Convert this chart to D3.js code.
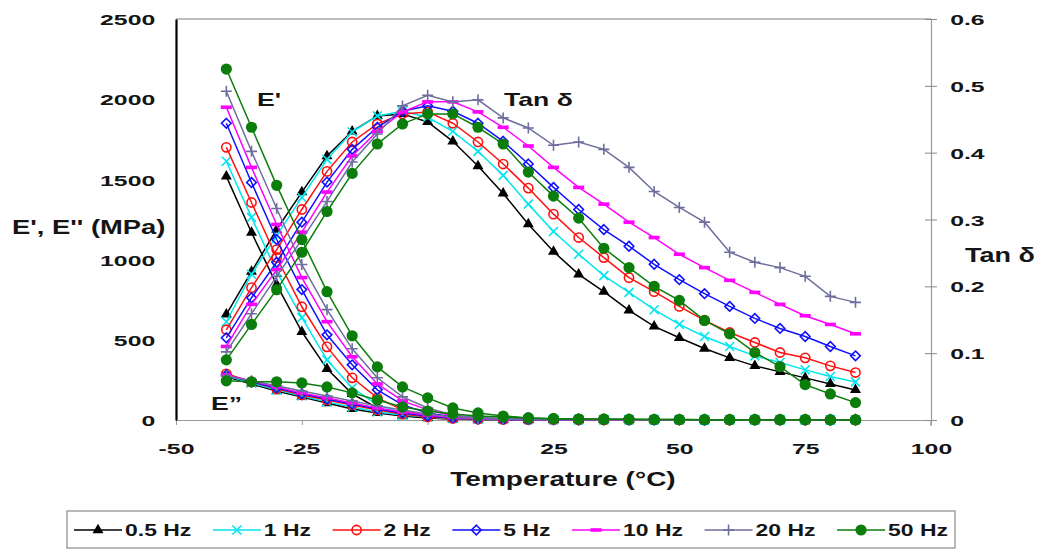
<!DOCTYPE html>
<html><head><meta charset="utf-8">
<script src="https://cdn.jsdelivr.net/npm/d3@7"></script>
<style>
body{margin:0;background:#fff}
svg{display:block}
text{font-family:"Liberation Sans",Arial,sans-serif;font-weight:bold;fill:#151515}
</style>
</head><body>
<svg id="c" width="1038" height="550"></svg>
<script>
// ---------- DATA ----------
const temps = [-40,-35,-30,-25,-20,-15,-10,-5,0,5,10,15,20,25,30,35,40,45,50,55,60,65,70,75,80,85];
const seriesNames = ["0.5 Hz","1 Hz","2 Hz","5 Hz","10 Hz","20 Hz","50 Hz"];
const xTicks = [-50,-25,0,25,50,75,100];
const leftTicks = [0,500,1000,1500,2000,2500];
const rightTicks = [0,0.1,0.2,0.3,0.4,0.5,0.6];

// tan delta (right axis)
const tan_05 = [0.158,0.222,0.285,0.341,0.395,0.432,0.455,0.458,0.446,0.417,0.380,0.339,0.293,0.252,0.218,0.192,0.164,0.140,0.123,0.107,0.093,0.081,0.072,0.063,0.054,0.045];
const tan_1  = [0.147,0.218,0.276,0.333,0.390,0.431,0.455,0.462,0.453,0.432,0.402,0.366,0.323,0.282,0.248,0.216,0.191,0.165,0.143,0.125,0.110,0.096,0.086,0.075,0.065,0.057];
const tan_2  = [0.135,0.198,0.255,0.315,0.372,0.416,0.443,0.458,0.461,0.444,0.416,0.383,0.347,0.308,0.273,0.243,0.213,0.192,0.170,0.149,0.131,0.116,0.101,0.093,0.081,0.071];
const tan_5  = [0.123,0.183,0.236,0.296,0.356,0.405,0.438,0.462,0.470,0.462,0.444,0.417,0.383,0.348,0.315,0.285,0.260,0.233,0.210,0.189,0.170,0.152,0.137,0.125,0.110,0.096];
const tan_10 = [0.110,0.173,0.225,0.281,0.341,0.395,0.432,0.461,0.476,0.476,0.461,0.438,0.410,0.378,0.348,0.323,0.296,0.273,0.248,0.228,0.209,0.191,0.173,0.156,0.143,0.129];
const tan_20 = [0.102,0.159,0.215,0.270,0.327,0.386,0.428,0.470,0.486,0.476,0.479,0.452,0.437,0.411,0.416,0.405,0.378,0.342,0.318,0.296,0.251,0.236,0.228,0.215,0.185,0.176];
const tan_50 = [0.090,0.143,0.195,0.251,0.312,0.369,0.413,0.443,0.458,0.458,0.438,0.413,0.371,0.335,0.302,0.257,0.228,0.200,0.179,0.149,0.129,0.101,0.080,0.053,0.039,0.026];

// E' storage modulus (MPa, left axis)
const Es_05 = [1519,1169,844,550,319,163,75,31,13,8,5,4,3,3,2,2,2,2,1,1,1,1,1,1,1,1];
const Es_1  = [1613,1263,925,638,375,200,94,44,19,10,6,4,3,3,2,2,2,2,1,1,1,1,1,1,1,1];
const Es_2  = [1700,1356,1013,706,456,263,138,63,25,13,8,5,4,3,3,2,2,2,2,1,1,1,1,1,1,1];
const Es_5  = [1850,1481,1125,813,531,344,188,94,44,19,10,6,4,3,3,2,2,2,2,1,1,1,1,1,1,1];
const Es_10 = [1950,1575,1219,888,613,394,225,119,63,25,13,8,5,4,3,3,2,2,2,2,1,1,1,1,1,1];
const Es_20 = [2050,1675,1319,969,688,444,263,144,75,31,16,9,6,4,3,3,2,2,2,2,1,1,1,1,1,1];
const Es_50 = [2188,1825,1463,1125,800,525,331,206,138,75,44,25,13,8,6,5,4,3,3,2,2,2,2,2,1,1];

// E'' loss modulus (MPa, left axis)
const El_05 = [269,225,181,144,106,69,44,25,13,6,3,2,1,1,1,1,1,1,1,1,1,1,1,1,1,1];
const El_1  = [275,231,188,150,113,81,50,31,19,9,5,3,2,1,1,1,1,1,1,1,1,1,1,1,1,1];
const El_2  = [288,238,194,156,125,94,63,38,19,10,5,3,2,2,1,1,1,1,1,1,1,1,1,1,1,1];
const El_5  = [281,238,200,163,131,100,69,44,25,13,6,4,2,2,1,1,1,1,1,1,1,1,1,1,1,1];
const El_10 = [281,244,206,169,138,106,75,50,31,16,8,4,3,2,1,1,1,1,1,1,1,1,1,1,1,1];
const El_20 = [275,244,213,181,150,119,88,63,38,19,10,5,3,2,2,1,1,1,1,1,1,1,1,1,1,1];
const El_50 = [244,238,238,231,206,169,125,81,56,38,25,19,13,8,6,5,4,3,3,2,2,2,2,2,1,1];

const tanData = [tan_05,tan_1,tan_2,tan_5,tan_10,tan_20,tan_50];
const storageData = [Es_05,Es_1,Es_2,Es_5,Es_10,Es_20,Es_50];
const lossData = [El_05,El_1,El_2,El_5,El_10,El_20,El_50];

// ---------- STYLE ----------
const colors = ["#000000","#00e6ee","#ff1010","#1010ff","#ff00ff","#6e6e9e","#0b7d0b"];
const markerTypes = ["tri","x","circle","diamond","dash","plus","dot"];

const svg = d3.select("#c");
const x = d3.scaleLinear().domain([-50,100]).range([176,931]);
const yL = d3.scaleLinear().domain([0,2500]).range([420,19]);
const yR = d3.scaleLinear().domain([0,0.6]).range([420,19]);

function marker(g, type, color){
  if(type==="tri") g.append("path").attr("d", d3.symbol(d3.symbolTriangle, 52)()).attr("fill", color);
  else if(type==="x") g.append("path").attr("d","M-4.5,-4.5L4.5,4.5M-4.5,4.5L4.5,-4.5").attr("stroke",color).attr("stroke-width",1.6).attr("fill","none");
  else if(type==="circle") g.append("circle").attr("r",4.6).attr("fill","none").attr("stroke",color).attr("stroke-width",1.6);
  else if(type==="diamond") g.append("path").attr("d","M0,-4.8L4.8,0L0,4.8L-4.8,0Z").attr("fill","none").attr("stroke",color).attr("stroke-width",1.6);
  else if(type==="dash") g.append("rect").attr("x",-5.5).attr("y",-1.8).attr("width",11).attr("height",3.6).attr("fill",color);
  else if(type==="plus") g.append("path").attr("d","M-5.5,0H5.5M0,-5.5V5.5").attr("stroke",color).attr("stroke-width",1.6).attr("fill","none");
  else if(type==="dot") g.append("circle").attr("r",5.6).attr("fill",color);
}

function stext(parent, tx, ty, str, size, sx, anchor){
  return parent.append("text")
    .attr("transform",`translate(${tx},${ty}) scale(${sx},1)`)
    .attr("text-anchor",anchor||"start")
    .attr("dominant-baseline","central")
    .style("font-size",size+"px")
    .text(str);
}

// ---------- AXES ----------
svg.append("line").attr("x1",176).attr("x2",931).attr("y1",19).attr("y2",19).attr("stroke","#aaa").attr("stroke-width",1.5);

const gx = svg.append("g").attr("transform","translate(0,420)")
  .call(d3.axisBottom(x).tickValues(xTicks).tickSize(5).tickSizeOuter(0).tickFormat(d=>String(d)));
gx.attr("font-size",null).attr("font-family",null);
gx.select(".domain").attr("stroke","#999").attr("stroke-width",1.2);
gx.selectAll(".tick line").attr("stroke","#999");
gx.selectAll(".tick text").attr("y",null).attr("dy",null)
  .attr("transform","translate(0,28) scale(1.6,1)").attr("dominant-baseline","central")
  .style("font-size","15.5px").attr("fill","#151515");

const gl = svg.append("g").attr("transform","translate(176,0)")
  .call(d3.axisLeft(yL).tickValues(leftTicks).tickSize(0).tickSizeOuter(0).tickPadding(13).tickFormat(d=>String(d)));
gl.attr("font-size",null).attr("font-family",null);
gl.select(".domain").attr("stroke","#000").attr("stroke-width",2.2);
gl.selectAll(".tick text").attr("dy",null).attr("dominant-baseline","central")
  .attr("transform","scale(1.6,1)").style("font-size","15.5px").attr("fill","#151515");

const gr = svg.append("g").attr("transform","translate(931,0)")
  .call(d3.axisRight(yR).tickValues(rightTicks).tickSize(6).tickSizeOuter(0).tickPadding(6).tickFormat(d=> d===0 ? "0" : d.toFixed(1)));
gr.attr("font-size",null).attr("font-family",null);
gr.select(".domain").attr("stroke","#999").attr("stroke-width",1.2);
gr.selectAll(".tick line").attr("x1",-6).attr("stroke","#888");
gr.selectAll(".tick text").attr("dy",null).attr("dominant-baseline","central")
  .attr("transform","scale(1.6,1)").style("font-size","15.5px").attr("fill","#151515");
svg.append("line").attr("x1",931).attr("x2",931).attr("y1",420).attr("y2",426).attr("stroke","#999").attr("stroke-width",1.2);

// ---------- SERIES ----------
const plot = svg.append("g");
seriesNames.forEach((name,i)=>{
  const sets = [
    {vals: tanData[i], y: yR},
    {vals: storageData[i], y: yL},
    {vals: lossData[i], y: yL}
  ];
  sets.forEach(s=>{
    const pts = temps.map((t,k)=>[t, s.vals[k]]);
    const line = d3.line().x(d=>x(d[0])).y(d=>s.y(d[1]));
    plot.append("path").attr("d", line(pts)).attr("fill","none")
      .attr("stroke", colors[i]).attr("stroke-width",1.5);
    pts.forEach(p=>{
      const g = plot.append("g").attr("transform",`translate(${x(p[0])},${s.y(p[1])})`);
      marker(g, markerTypes[i], colors[i]);
    });
  });
});

// ---------- LABELS ----------
stext(svg, 12, 227, "E', E'' (MPa)", 20, 1.37, "start");
stext(svg, 563, 479, "Temperature (°C)", 20, 1.4, "middle");
stext(svg, 1000, 255, "Tan δ", 20, 1.35, "middle");
stext(svg, 257, 99, "E'", 19, 1.4, "start");
stext(svg, 504, 99, "Tan δ", 19, 1.4, "start");
stext(svg, 211, 403, "E\u201D", 19, 1.4, "start");

// ---------- LEGEND ----------
const lg = svg.append("g");
lg.append("rect").attr("x",67).attr("y",511).attr("width",888).attr("height",37)
  .attr("fill","#fff").attr("stroke","#8a8a8a").attr("stroke-width",1.2);
const legSx = 1.35, legSize = 17, lineLen = 48, gapTxt = 3;
const items = seriesNames.map((name,i)=>{
  const g = lg.append("g");
  const t = stext(g, 0, 0, name, legSize, legSx, "start");
  const w = t.node().getComputedTextLength()*legSx;
  return {g, t, w, i};
});
const total = d3.sum(items, d=>lineLen+gapTxt+d.w);
const gap = (948-74-total)/(items.length-1);
let cx = 74;
items.forEach(it=>{
  it.g.append("line").attr("x1",cx).attr("x2",cx+lineLen).attr("y1",530).attr("y2",530)
    .attr("stroke",colors[it.i]).attr("stroke-width",1.6);
  const mg = it.g.append("g").attr("transform",`translate(${cx+lineLen/2},530)`);
  marker(mg, markerTypes[it.i], colors[it.i]);
  it.t.attr("transform",`translate(${cx+lineLen+gapTxt},530) scale(${legSx},1)`);
  cx += lineLen+gapTxt+it.w+gap;
});
</script>
</body></html>
